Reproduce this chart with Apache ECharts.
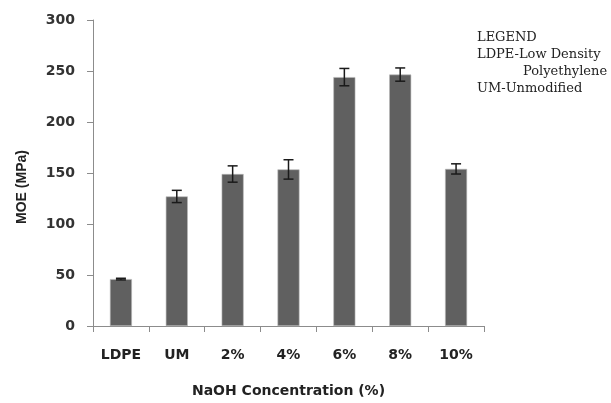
<!DOCTYPE html>
<html>
<head>
<meta charset="utf-8">
<script src="https://cdn.jsdelivr.net/npm/echarts@6/dist/echarts.min.js"></script>
<style>
  html, body { margin: 0; padding: 0; background: #fff; }
  #chart { width: 611px; height: 403px; }
</style>
</head>
<body>
<div id="chart"></div>
<script>
const categories = ["LDPE", "UM", "2%", "4%", "6%", "8%", "10%"]
const moeValues = [46, 127, 149, 153.5, 244, 246.5, 154]
const moeErrors = [0.8, 6, 8, 9.5, 8.5, 6.5, 5]
const yTicks = { min: 0, max: 300, interval: 50 }
const legendLines = ["LEGEND", "LDPE-Low Density", "Polyethylene", "UM-Unmodified"]

const chart = echarts.init(document.getElementById("chart"))

const errorData = categories.map((c, i) => [i, moeValues[i] - moeErrors[i], moeValues[i] + moeErrors[i]])

const option = {
  backgroundColor: "#fff",
  animation: false,
  grid: {
    left: 93,
    top: 20,
    right: 127,
    bottom: 77,
  },
  xAxis: {
    type: "category",
    data: categories,
    name: "NaOH Concentration (%)",
    nameLocation: "middle",
    nameGap: 58,
    nameTextStyle: {
      fontFamily: "DejaVu Sans",
      fontWeight: "bold",
      fontSize: 14,
      color: "#222",
    },
    axisLine: { lineStyle: { color: "#8c8c8c", width: 1 } },
    axisTick: { show: true, length: 6, lineStyle: { color: "#8c8c8c" } },
    axisLabel: {
      margin: 22,
      fontFamily: "DejaVu Sans",
      fontWeight: "bold",
      fontSize: 14,
      color: "#222",
    },
  },
  yAxis: {
    type: "value",
    min: yTicks.min,
    max: yTicks.max,
    interval: yTicks.interval,
    name: "MOE (MPa)",
    nameLocation: "middle",
    nameGap: 64,
    nameRotate: 90,
    nameTextStyle: {
      fontFamily: "'Liberation Sans Narrow', 'Liberation Sans'",
      fontWeight: "bold",
      fontSize: 14,
      color: "#222",
      padding: [0, 28, 0, 0],
    },
    axisLine: { show: true, lineStyle: { color: "#8c8c8c", width: 1 } },
    axisTick: { show: true, length: 6, lineStyle: { color: "#8c8c8c" } },
    splitLine: { show: false },
    axisLabel: {
      margin: 18,
      fontFamily: "DejaVu Sans",
      fontWeight: "bold",
      fontSize: 14,
      color: "#333",
    },
  },
  series: [
    {
      type: "bar",
      data: moeValues,
      barWidth: 22,
      itemStyle: {
        color: "#606060",
        borderColor: "#b8b8b8",
        borderWidth: 0.6,
      },
    },
    {
      type: "custom",
      data: errorData,
      z: 10,
      renderItem: (params, api) => {
        const x = api.value(0)
        const lo = api.coord([x, api.value(1)])
        const hi = api.coord([x, api.value(2)])
        const half = 5
        const style = { stroke: "#1a1a1a", lineWidth: 1.5 }
        return {
          type: "group",
          children: [
            { type: "line", shape: { x1: hi[0], y1: hi[1], x2: lo[0], y2: lo[1] }, style },
            { type: "line", shape: { x1: hi[0] - half, y1: hi[1], x2: hi[0] + half, y2: hi[1] }, style },
            { type: "line", shape: { x1: lo[0] - half, y1: lo[1], x2: lo[0] + half, y2: lo[1] }, style },
          ],
        }
      },
    },
  ],
  graphic: legendLines.map((t, i) => ({
    type: "text",
    left: i === 2 ? 523 : 477,
    top: 31 + i * 17,
    style: {
      text: t,
      font: "13px 'DejaVu Serif'",
      fill: "#222",
    },
  })),
}

chart.setOption(option)
</script>
</body>
</html>
